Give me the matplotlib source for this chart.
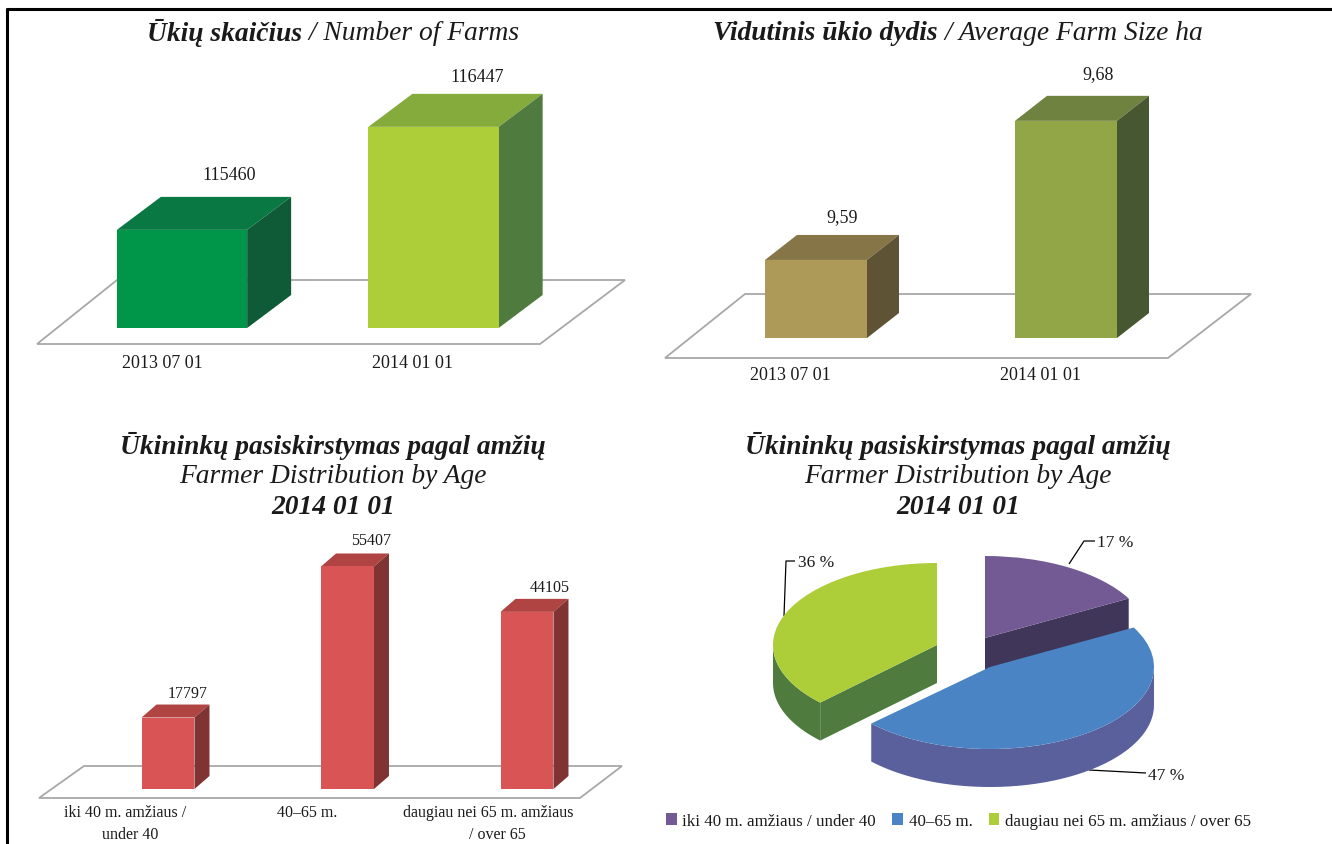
import numpy as np
import matplotlib
matplotlib.use("Agg")
import matplotlib.pyplot as plt
from matplotlib.patches import Polygon
from matplotlib.transforms import Affine2D

W, H = 1332, 845
SERIF = "Liberation Serif"
TEXT_COLOR = "#1a1a1a"
TITLE_SIZE = 19.8

# data
farm_dates = ["2013 07 01", "2014 01 01"]
farm_counts = [115460, 116447]
farm_labels = ["115460", "116447"]

size_dates = ["2013 07 01", "2014 01 01"]
size_values = [9.59, 9.68]
size_labels = ["9,59", "9,68"]

age_groups = ["iki 40 m. amžiaus /\nunder 40", "40–65 m.", "daugiau nei 65 m. amžiaus\n/ over 65"]
age_counts = [17797, 55407, 44105]
age_labels = ["17797", "55407", "44105"]

pie_shares = [17, 47, 36]
pie_labels = ["17 %", "47 %", "36 %"]
pie_legend = ["iki 40 m. amžiaus / under 40", "40–65 m.", "daugiau nei 65 m. amžiaus / over 65"]

plt.rcParams["font.family"] = SERIF
fig = plt.figure(figsize=(W / 100, H / 100), dpi=100)
px = Affine2D().scale(1 / W, -1 / H).translate(0, 1) + fig.transFigure


def add_line(xs, ys, color="black", lw=1.0):
    fig.add_artist(plt.Line2D(xs, ys, transform=px, color=color, lw=lw, solid_capstyle="butt"))


def px_text(x, y, s, size=13, ha="center", **kw):
    return fig.text(x, y + 2, s, transform=px, fontsize=size, ha=ha, va="center", color=TEXT_COLOR, **kw)


def title_line(cx, y, pieces, size=TITLE_SIZE):
    # pieces of different weight on one centred line
    r = fig.canvas.get_renderer()
    arts = [px_text(0, y, s, size=size, ha="left", style="italic", weight=w) for s, w in pieces]
    widths = [a.get_window_extent(r).width for a in arts]
    x = cx - sum(widths) / 2
    for a, wd in zip(arts, widths):
        a.set_position((x, y + 2))
        x += wd


def floor(pts):
    pts = [(x, y + 1) for x, y in pts]
    fig.add_artist(Polygon(pts, closed=True, transform=px, facecolor="white",
                           edgecolor="#a8a8a8", lw=1.3, zorder=0))


def bars3d(center0, spacing, ybase, ytop, baseline, per_px, values, width, depth, colors):
    # axes reaches from baseline value (ybase) up to ytop, one category per unit
    n = len(values)
    ybase = ybase + 1
    x0 = center0 - spacing / 2
    x1 = x0 + spacing * n
    ax = fig.add_axes([x0 / W, 1 - ybase / H, (x1 - x0) / W, (ybase - ytop) / H], zorder=2)
    ax.set_xlim(-0.5, n - 0.5)
    ax.set_ylim(baseline, baseline + per_px * (ybase - ytop))
    ax.axis("off")
    ax.patch.set_alpha(0)
    dx = depth[0] / spacing
    dy = depth[1] * per_px
    for i, v in enumerate(values):
        front, top, side = colors[i]
        l, r = i - width / 2, i + width / 2
        ax.bar(i, v - baseline, width=width, bottom=baseline, color=front, zorder=3, clip_on=False)
        ax.add_patch(Polygon([(l, v), (r, v), (r + dx, v + dy), (l + dx, v + dy)],
                             facecolor=top, edgecolor="none", clip_on=False, zorder=2))
        ax.add_patch(Polygon([(r, baseline), (r, v), (r + dx, v + dy), (r + dx, baseline + dy)],
                             facecolor=side, edgecolor="none", clip_on=False, zorder=2))
    return ax


# page frame, as cropped from the report
add_line([7, 7], [9, H], lw=2.2)
add_line([6, W], [10, 10], lw=2.2)

# number of farms
title_line(333, 31, [("Ūkių skaičius", "bold"), (" / Number of Farms", "normal")])
floor([(37, 344), (540, 344), (625, 280), (117, 280)])
bars3d(182, 251.5, 328, 60, 114520, 9.58, farm_counts, 0.518, (44, 33),
       [("#00964a", "#0a7843", "#0f5b38"), ("#adcd39", "#85ab3d", "#4f7c3e")])
for x, y, s in zip([229, 477], [173, 75], farm_labels):
    px_text(x, y, s)
for x, s in zip([162, 413], farm_dates):
    px_text(x, 362, s)

# average farm size
title_line(958, 31, [("Vidutinis ūkio dydis", "bold"), (" / Average Farm Size ha", "normal")])
floor([(665, 358), (1168, 358), (1251, 294), (745, 294)])
bars3d(816, 250, 338, 60, 9.5395, 0.000647, size_values, 0.408, (32, 25),
       [("#ae9a58", "#857547", "#5e5335"), ("#92a547", "#6f8240", "#465731")])
for x, y, s in zip([842, 1098], [216, 73], size_labels):
    px_text(x, y, s)
for x, s in zip([790, 1040], size_dates):
    px_text(x, 374, s)

# farmers by age, bars
for cx in (333, 958):
    title_line(cx, 444, [("Ūkininkų pasiskirstymas pagal amžių", "bold")])
    title_line(cx, 475, [("Farmer Distribution by Age", "normal")])
    title_line(cx, 505, [("2014 01 01", "bold")])

floor([(39, 798), (580, 798), (622, 766), (84, 766)])
bars3d(168, 179.5, 789, 530, 0, 249, age_counts, 0.295, (15, 13),
       [("#d95555", "#b04442", "#7f3333")] * 3)
for x, y, s in zip([188, 371, 550], [692, 539, 586], age_labels):
    px_text(x, y, s, size=11.5)
for x, s in zip([125, 307, 488], age_groups):
    px_text(x, 811, s.split("\n")[0], size=11.5)
px_text(130, 833, age_groups[0].split("\n")[1], size=11.5)
px_text(497, 833, age_groups[2].split("\n")[1], size=11.5)

# farmers by age, exploded pie
RX, RY, DEPTH = 164, 82, 38
ax = fig.add_axes([0, 0, 1, 1], zorder=3)
wedges, _ = ax.pie(pie_shares, startangle=90, counterclock=False,
                   colors=["#735a95", "#4a84c4", "#adcd39"], radius=1)
ax.set_aspect("auto")
ax.set_xlim(0, W / RX)
ax.set_ylim(0, H / RY)
ax.axis("off")
ax.patch.set_alpha(0)

# perspective of the 3D pie moves the lower left cut a bit towards the front
wedges[1].set_theta1(wedges[1].theta1 + 4)
wedges[2].set_theta2(wedges[2].theta2 + 5)

centers = [(985, 639), (990, 668), (937, 646)]
wall_colors = ["#40365a", "#59609c", "#4f7c3e"]
cut_side = ["theta1", None, "theta2"]
depth = DEPTH / RY
for w, (cx, cy), wall, cut, z in zip(wedges, centers, wall_colors, cut_side, [2, 4, 2]):
    c = (cx / RX, (H - cy) / RY)
    w.set_center(c)
    w.set_linewidth(0)
    w.set_zorder(z)
    # curved outer wall, only the part facing the viewer
    for k in (-1, 0, 1):
        a = max(w.theta1, -180 + 360 * k)
        b = min(w.theta2, 360 * k)
        if a < b:
            t = np.radians(np.linspace(a, b, 60))
            xs = c[0] + np.cos(t)
            ys = c[1] + np.sin(t)
            pts = np.r_[np.c_[xs, ys], np.c_[xs, ys - depth][::-1]]
            ax.add_patch(Polygon(pts, facecolor=wall, edgecolor="none", zorder=z - 1))
    # flat cut face
    if cut:
        t = np.radians(getattr(w, cut))
        ex, ey = c[0] + np.cos(t), c[1] + np.sin(t)
        ax.add_patch(Polygon([c, (ex, ey), (ex, ey - depth), (c[0], c[1] - depth)],
                             facecolor=wall, edgecolor="none", zorder=z - 1))

add_line([1069, 1084, 1095], [565, 542, 542], lw=0.9)
add_line([784, 786, 795], [617, 562, 562], lw=0.9)
add_line([1089, 1146], [771, 774], lw=0.9)
px_text(1115, 541, pie_labels[0], size=12.5)
px_text(1166, 774, pie_labels[1], size=12.5)
px_text(816, 561, pie_labels[2], size=12.5)

ax.legend(wedges, pie_legend, ncol=3, frameon=False, loc="center left",
          bbox_to_anchor=(666 / W, 1 - 822 / H), bbox_transform=fig.transFigure,
          fontsize=12.2, handlelength=0.62, handleheight=0.75, handletextpad=0.35,
          columnspacing=0.95, borderpad=0, borderaxespad=0, labelcolor=TEXT_COLOR)

fig.savefig("out.png", dpi=100)
